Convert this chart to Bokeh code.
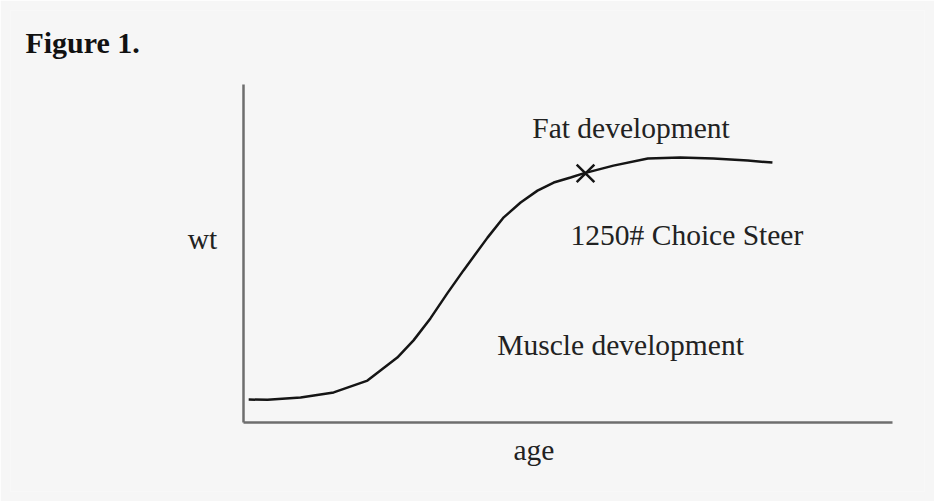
from bokeh.plotting import figure
from bokeh.models import FixedTicker, Range1d
from bokeh.core.properties import value
from bokeh.embed import file_html
from bokeh.resources import INLINE

# growth curve (age vs weight, axis units 0-100)
age = [0.8, 3.7, 8.8, 13.9, 19.1, 21.1, 23.7, 26.2, 28.8, 31.4, 33.9, 37.6,
       40.1, 42.7, 45.3, 47.8, 50.4, 52.4, 57.0, 62.3, 67.3, 72.4, 77.7, 81.5]
wt = [6.8, 6.7, 7.4, 8.9, 12.4, 15.4, 19.2, 24.3, 30.8, 38.2, 45.0, 54.7,
      60.7, 65.1, 68.6, 71.0, 72.5, 73.7, 76.0, 78.1, 78.4, 78.1, 77.5, 76.9]

# marked point: 1250# Choice Steer
steer_age = [52.7]
steer_wt = [73.7]

# region labels inside the axes
label_text = ["Fat development", "1250# Choice Steer", "Muscle development"]
label_age = [44.5, 50.4, 39.1]
label_wt = [84.9, 53.0, 20.7]

# labels outside the axes
outer_text = ["wt", "age"]
outer_age = [-8.6, 41.6]
outer_wt = [51.8, -10.6]

title_text = ["Figure 1."]
title_age = [-33.6]
title_wt = [110.1]

FONT = "Liberation Serif"
BG = "#f6f6f6"
TXT = "#222222"

p = figure(width=934, height=501, output_backend="svg", toolbar_location=None,
           x_range=Range1d(-35.9, 104.93), y_range=Range1d(-20.41, 121.89),
           min_border_left=10, min_border_right=10,
           min_border_top=10, min_border_bottom=10)
p.background_fill_color = BG
p.border_fill_color = BG
p.outline_line_color = None
p.grid.visible = False

for ax in (p.xaxis[0], p.yaxis[0]):
    ax.ticker = FixedTicker(ticks=[])
    ax.major_tick_out = 0
    ax.major_tick_in = 0
    ax.minor_tick_out = 0
    ax.minor_tick_in = 0
    ax.axis_line_color = "#6e6e6e"
    ax.axis_line_width = 2.5
    ax.fixed_location = 0
    ax.bounds = (0, 100)

p.line(age, wt, line_color="#151515", line_width=2.5)
p.scatter(steer_age, steer_wt, marker="x", size=25, line_color="#151515", line_width=2.5)

p.text(label_age, label_wt, text=label_text, text_font=value(FONT),
       text_font_size="29.5px", text_color=TXT, text_baseline="alphabetic",
       text_align="left", y_offset=-8)
p.text(outer_age, outer_wt, text=outer_text, text_font=value(FONT),
       text_font_size="29.5px", text_color=TXT, text_baseline="alphabetic",
       text_align="left", y_offset=-8)
p.text(title_age, title_wt, text=title_text, text_font=value(FONT),
       text_font_size="30px", text_font_style="bold", text_color="#111111",
       text_baseline="alphabetic", text_align="left", y_offset=-8)

open("out.html", "w").write(file_html(p, INLINE))
